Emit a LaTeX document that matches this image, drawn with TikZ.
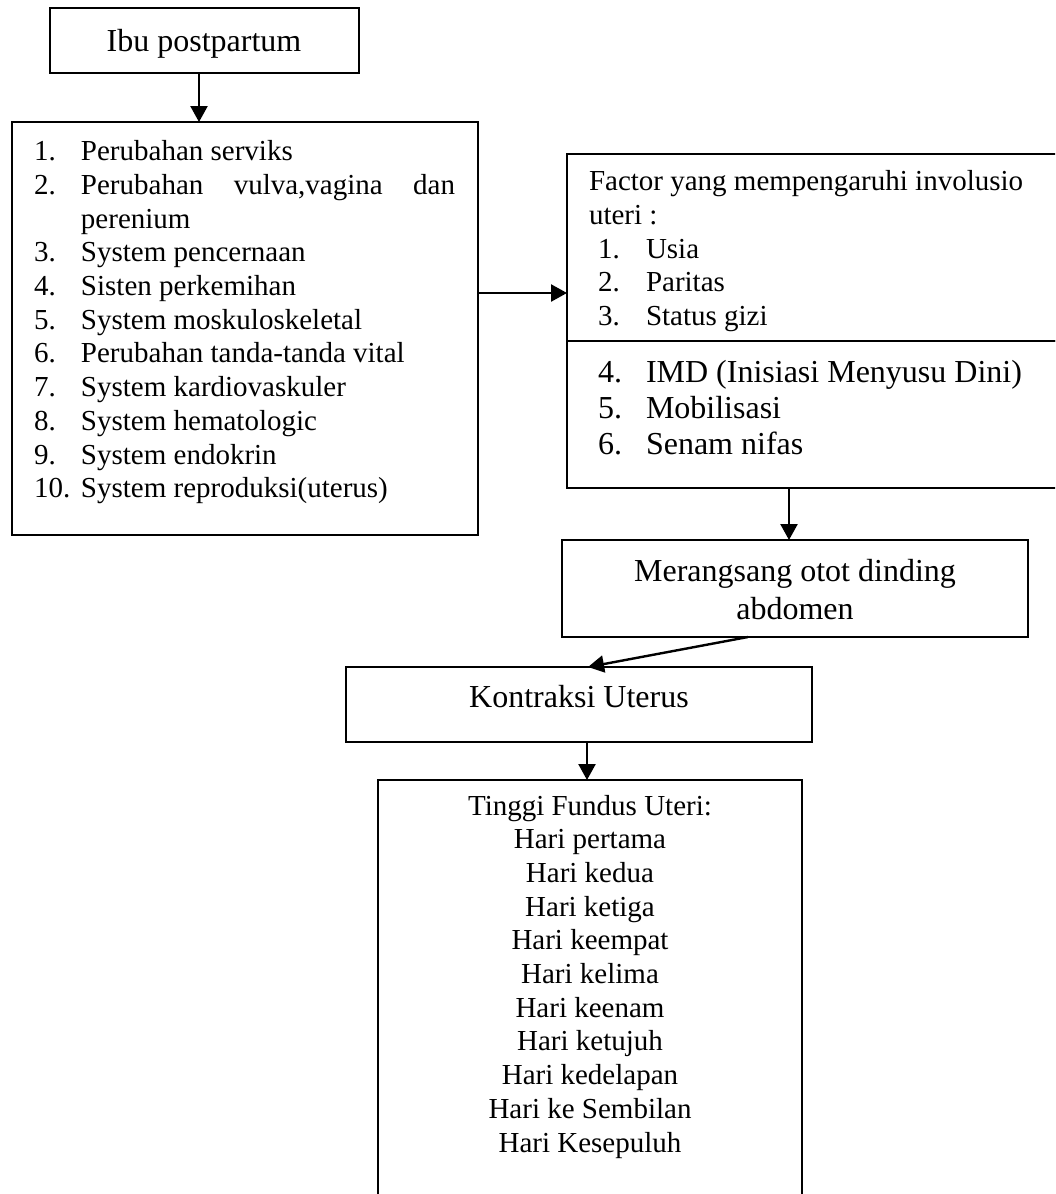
\documentclass[tikz,border=0pt]{standalone}
\usepackage{fontspec}
\setmainfont{Liberation Serif}
\usetikzlibrary{arrows.meta,calc}
\newcommand\fsA{\fontsize{29pt}{33.7pt}\selectfont}
\newcommand\fsB{\fontsize{32pt}{36pt}\selectfont}
\newcommand\fsC{\fontsize{32pt}{38pt}\selectfont}
\tikzset{
  box/.style={draw, line width=2.8pt, inner sep=0pt, outer sep=0pt, anchor=north west},
  thinbox/.style={box, line width=2.1pt},
  txt/.style={inner sep=0pt, outer sep=0pt},
  arr/.style={line width=2.4pt, -{Triangle[length=16pt,width=17pt]}}
}
\begin{document}
\begin{tikzpicture}[x=1pt,y=-1pt]
\useasboundingbox (0,0) rectangle (1055,1194);
\fill[white] (0,0) rectangle (1055,1194);
\clip (0,0) rectangle (1055,1194);

% boxes
\node[box, minimum width=309pt, minimum height=65pt] (b1) at (50,8) {};
\node[box, minimum width=466pt, minimum height=413pt] (b2) at (12,122) {};
\node[box, minimum width=503pt, minimum height=187pt] (b3a) at (567,154) {};
\node[box, minimum width=503pt, minimum height=147pt] (b3b) at (567,341) {};
\node[thinbox, minimum width=466pt, minimum height=97pt] (b4) at (562,540) {};
\node[thinbox, minimum width=466pt, minimum height=75pt] (b5) at (346,667) {};
\node[box, minimum width=424pt, minimum height=440pt] (b6) at (378,780) {};

% texts
\node[txt, anchor=base] (t1) at (204,51.6) {\fsB Ibu postpartum};

\node[txt, anchor=base west] (t2) at (34,160.7) {\fsA\begin{tabular}[t]{@{}l@{}}
\makebox[47pt][l]{1.}Perubahan serviks\\
\makebox[47pt][l]{2.}\makebox[374pt][s]{Perubahan vulva,vagina dan}\\
\hspace*{47pt}perenium\\
\makebox[47pt][l]{3.}System pencernaan\\
\makebox[47pt][l]{4.}Sisten perkemihan\\
\makebox[47pt][l]{5.}System moskuloskeletal\\
\makebox[47pt][l]{6.}Perubahan tanda-tanda vital\\
\makebox[47pt][l]{7.}System kardiovaskuler\\
\makebox[47pt][l]{8.}System hematologic\\
\makebox[47pt][l]{9.}System endokrin\\
\makebox[47pt][l]{10.}System reproduksi(uterus)
\end{tabular}};

\node[txt, anchor=base west] (t3a) at (589,190.7) {\fsA\begin{tabular}[t]{@{}l@{}}
Factor yang mempengaruhi involusio\\
uteri :\\
\hspace*{9pt}\makebox[48pt][l]{1.}Usia\\
\hspace*{9pt}\makebox[48pt][l]{2.}Paritas\\
\hspace*{9pt}\makebox[48pt][l]{3.}Status gizi
\end{tabular}};

\node[txt, anchor=base west] (t3b) at (598,382.6) {\fsB\begin{tabular}[t]{@{}l@{}}
\makebox[48pt][l]{4.}IMD (Inisiasi Menyusu Dini)\\
\makebox[48pt][l]{5.}Mobilisasi\\
\makebox[48pt][l]{6.}Senam nifas
\end{tabular}};

\node[txt, anchor=base] (t4) at (795,581.6) {\fsC\begin{tabular}[t]{@{}c@{}}
Merangsang otot dinding\\
abdomen
\end{tabular}};

\node[txt, anchor=base] (t5) at (579,707.6) {\fsB Kontraksi Uterus};

\node[txt, anchor=base] (t6) at (590,815) {\fsA\begin{tabular}[t]{@{}c@{}}
Tinggi Fundus Uteri:\\
Hari pertama\\
Hari kedua\\
Hari ketiga\\
Hari keempat\\
Hari kelima\\
Hari keenam\\
Hari ketujuh\\
Hari kedelapan\\
Hari ke Sembilan\\
Hari Kesepuluh
\end{tabular}};

% connectors
\coordinate (m1) at (199,0);
\coordinate (m2) at (0,293);
\coordinate (m3) at (789,0);
\coordinate (m5) at (587,0);
\draw[arr] (b1.south -| m1) -- (b2.north -| m1);
\draw[arr] (b2.east |- m2) -- (b3a.west |- m2);
\draw[arr] (b3b.south -| m3) -- (b4.north -| m3);
\draw[arr] ($(b4.south)+(-47,0)$) -- ($(b5.north)+(9,0)$);
\draw[arr] (b5.south -| m5) -- (b6.north -| m5);
\end{tikzpicture}
\end{document}
